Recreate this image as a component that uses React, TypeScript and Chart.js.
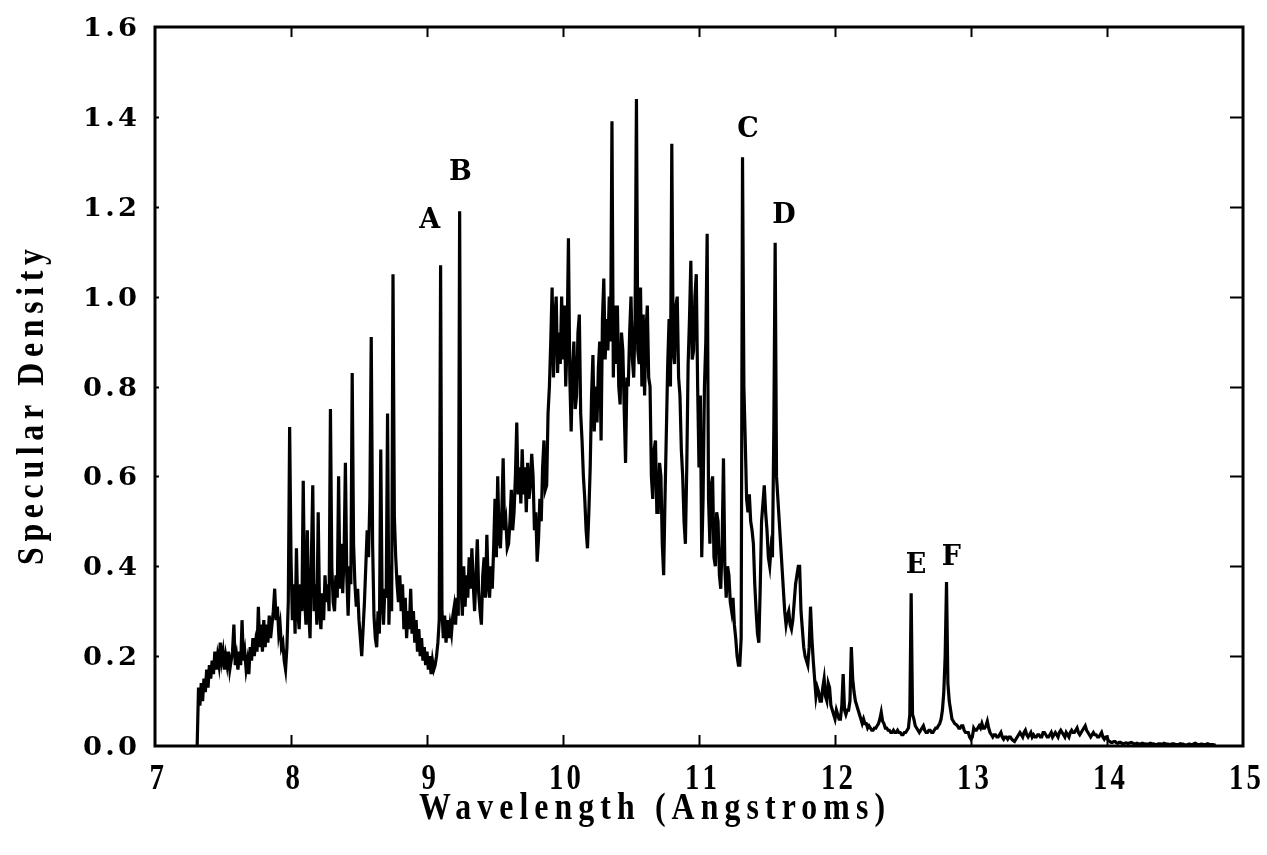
import React, { useEffect, useRef } from "react";
import { Chart, registerables } from "chart.js";

Chart.register(...registerables);

// Scan sampling: first wavelength and step (Angstroms)
const WL_START = 7.3;
const WL_STEP = 0.01;

// Specular density, one reading per 0.01 A from 7.30 A (ten per row)
const density = [
  0.00, 0.00, 0.13, 0.09, 0.14, 0.10, 0.15, 0.12, 0.17, 0.13, // 7.3
  0.18, 0.15, 0.19, 0.16, 0.21, 0.17, 0.20, 0.18, 0.23, 0.19, // 7.4
  0.21, 0.17, 0.20, 0.18, 0.21, 0.17, 0.19, 0.21, 0.27, 0.18, // 7.5
  0.20, 0.17, 0.21, 0.18, 0.28, 0.19, 0.21, 0.17, 0.19, 0.16, // 7.6
  0.22, 0.19, 0.24, 0.20, 0.23, 0.21, 0.31, 0.22, 0.27, 0.21, // 7.7
  0.28, 0.22, 0.27, 0.23, 0.29, 0.24, 0.27, 0.30, 0.35, 0.28, // 7.8
  0.31, 0.25, 0.27, 0.22, 0.23, 0.19, 0.17, 0.22, 0.32, 0.71, // 7.9
  0.42, 0.28, 0.36, 0.25, 0.44, 0.30, 0.26, 0.36, 0.30, 0.59, // 8.0
  0.33, 0.27, 0.48, 0.30, 0.24, 0.42, 0.58, 0.30, 0.36, 0.27, // 8.1
  0.52, 0.30, 0.26, 0.34, 0.28, 0.38, 0.32, 0.36, 0.30, 0.75, // 8.2
  0.40, 0.32, 0.30, 0.38, 0.33, 0.60, 0.35, 0.45, 0.34, 0.42, // 8.3
  0.63, 0.38, 0.29, 0.40, 0.36, 0.83, 0.45, 0.36, 0.31, 0.35, // 8.4
  0.28, 0.24, 0.20, 0.26, 0.32, 0.40, 0.48, 0.42, 0.55, 0.91, // 8.5
  0.45, 0.29, 0.24, 0.22, 0.30, 0.25, 0.66, 0.32, 0.27, 0.35, // 8.6
  0.33, 0.74, 0.27, 0.40, 0.30, 1.05, 0.51, 0.42, 0.36, 0.32, // 8.7
  0.38, 0.30, 0.36, 0.26, 0.33, 0.24, 0.30, 0.26, 0.35, 0.25, // 8.8
  0.30, 0.23, 0.28, 0.21, 0.26, 0.20, 0.24, 0.19, 0.22, 0.18, // 8.9
  0.21, 0.17, 0.20, 0.16, 0.19, 0.17, 0.18, 0.20, 0.23, 0.28, // 9.0
  1.07, 0.30, 0.24, 0.29, 0.23, 0.28, 0.24, 0.27, 0.25, 0.29, // 9.1
  0.31, 0.27, 0.33, 0.29, 1.19, 0.36, 0.29, 0.40, 0.31, 0.38, // 9.2
  0.33, 0.42, 0.35, 0.44, 0.36, 0.30, 0.38, 0.46, 0.34, 0.30, // 9.3
  0.27, 0.38, 0.42, 0.33, 0.47, 0.36, 0.33, 0.40, 0.35, 0.44, // 9.4
  0.55, 0.42, 0.60, 0.46, 0.44, 0.52, 0.64, 0.48, 0.50, 0.44, // 9.5
  0.45, 0.50, 0.57, 0.48, 0.52, 0.60, 0.72, 0.56, 0.62, 0.54, // 9.6
  0.66, 0.56, 0.62, 0.52, 0.63, 0.55, 0.58, 0.65, 0.60, 0.48, // 9.7
  0.52, 0.41, 0.46, 0.55, 0.50, 0.62, 0.68, 0.57, 0.58, 0.74, // 9.8
  0.80, 0.90, 1.02, 0.82, 0.95, 1.00, 0.83, 0.92, 0.85, 1.00, // 9.9
  0.86, 0.98, 0.80, 0.90, 1.13, 0.82, 0.70, 0.84, 0.90, 0.75, // 10.0
  0.78, 0.92, 0.96, 0.74, 0.68, 0.60, 0.55, 0.48, 0.44, 0.52, // 10.1
  0.62, 0.78, 0.87, 0.70, 0.80, 0.72, 0.84, 0.90, 0.68, 0.95, // 10.2
  1.04, 0.86, 0.95, 0.88, 1.00, 0.90, 1.39, 0.82, 0.98, 0.85, // 10.3
  0.98, 0.80, 0.76, 0.92, 0.88, 0.75, 0.63, 0.82, 0.80, 0.92, // 10.4
  1.00, 0.86, 0.82, 0.95, 1.44, 0.88, 0.85, 1.02, 0.80, 0.96, // 10.5
  0.78, 0.92, 0.98, 0.82, 0.80, 0.60, 0.55, 0.66, 0.68, 0.52, // 10.6
  0.52, 0.63, 0.60, 0.45, 0.38, 0.55, 0.70, 0.85, 0.95, 0.80, // 10.7
  1.34, 0.88, 0.85, 0.98, 1.00, 0.82, 0.78, 0.66, 0.60, 0.50, // 10.8
  0.45, 0.62, 0.85, 0.95, 1.08, 0.86, 0.88, 1.00, 1.05, 0.80, // 10.9
  0.62, 0.78, 0.42, 0.55, 0.80, 0.90, 1.14, 0.55, 0.45, 0.58, // 11.0
  0.60, 0.42, 0.40, 0.52, 0.50, 0.38, 0.35, 0.45, 0.64, 0.40, // 11.1
  0.33, 0.40, 0.38, 0.32, 0.30, 0.33, 0.27, 0.24, 0.20, 0.18, // 11.2
  0.18, 0.24, 1.31, 0.80, 0.68, 0.55, 0.52, 0.56, 0.50, 0.48, // 11.3
  0.45, 0.36, 0.30, 0.25, 0.23, 0.35, 0.50, 0.54, 0.58, 0.52, // 11.4
  0.48, 0.42, 0.40, 0.44, 0.42, 0.70, 1.12, 0.60, 0.55, 0.50, // 11.5
  0.45, 0.40, 0.35, 0.30, 0.27, 0.29, 0.30, 0.27, 0.26, 0.28, // 11.6
  0.32, 0.36, 0.38, 0.40, 0.40, 0.30, 0.26, 0.22, 0.20, 0.19, // 11.7
  0.18, 0.22, 0.31, 0.24, 0.19, 0.15, 0.11, 0.13, 0.12, 0.10, // 11.8
  0.10, 0.13, 0.15, 0.11, 0.10, 0.14, 0.13, 0.09, 0.08, 0.07, // 11.9
  0.06, 0.08, 0.07, 0.06, 0.06, 0.09, 0.16, 0.08, 0.07, 0.08, // 12.0
  0.08, 0.10, 0.22, 0.15, 0.12, 0.10, 0.09, 0.08, 0.07, 0.06, // 12.1
  0.05, 0.06, 0.05, 0.05, 0.04, 0.045, 0.04, 0.035, 0.035, 0.04, // 12.2
  0.04, 0.045, 0.05, 0.06, 0.075, 0.055, 0.05, 0.04, 0.04, 0.035, // 12.3
  0.035, 0.03, 0.03, 0.035, 0.03, 0.03, 0.035, 0.03, 0.03, 0.025, // 12.4
  0.025, 0.03, 0.03, 0.035, 0.04, 0.07, 0.34, 0.07, 0.06, 0.045, // 12.5
  0.04, 0.035, 0.03, 0.035, 0.04, 0.045, 0.035, 0.03, 0.03, 0.035, // 12.6
  0.035, 0.03, 0.03, 0.035, 0.04, 0.04, 0.045, 0.05, 0.06, 0.08, // 12.7
  0.12, 0.20, 0.365, 0.14, 0.10, 0.08, 0.06, 0.055, 0.05, 0.048, // 12.8
  0.045, 0.04, 0.04, 0.045, 0.045, 0.035, 0.03, 0.03, 0.03, 0.02, // 12.9
  0.015, 0.02, 0.04, 0.035, 0.035, 0.04, 0.045, 0.04, 0.05, 0.04, // 13.0
  0.04, 0.045, 0.055, 0.04, 0.03, 0.025, 0.02, 0.025, 0.025, 0.02, // 13.1
  0.02, 0.025, 0.03, 0.02, 0.015, 0.02, 0.02, 0.015, 0.02, 0.02, // 13.2
  0.015, 0.012, 0.01, 0.015, 0.02, 0.025, 0.03, 0.025, 0.02, 0.03, // 13.3
  0.035, 0.025, 0.02, 0.025, 0.03, 0.02, 0.025, 0.02, 0.02, 0.025, // 13.4
  0.025, 0.02, 0.02, 0.03, 0.03, 0.025, 0.02, 0.02, 0.025, 0.03, // 13.5
  0.02, 0.025, 0.03, 0.025, 0.02, 0.03, 0.035, 0.03, 0.025, 0.02, // 13.6
  0.03, 0.025, 0.02, 0.03, 0.035, 0.03, 0.03, 0.035, 0.04, 0.03, // 13.7
  0.025, 0.03, 0.035, 0.04, 0.045, 0.035, 0.03, 0.025, 0.02, 0.025, // 13.8
  0.03, 0.025, 0.025, 0.02, 0.02, 0.025, 0.03, 0.02, 0.015, 0.02, // 13.9
  0.02, 0.012, 0.01, 0.008, 0.008, 0.01, 0.01, 0.007, 0.006, 0.008, // 14.0
  0.008, 0.006, 0.005, 0.006, 0.007, 0.006, 0.006, 0.007, 0.008, 0.006, // 14.1
  0.005, 0.005, 0.006, 0.005, 0.004, 0.005, 0.006, 0.005, 0.005, 0.004, // 14.2
  0.004, 0.005, 0.006, 0.005, 0.005, 0.004, 0.003, 0.004, 0.005, 0.005, // 14.3
  0.004, 0.004, 0.006, 0.005, 0.004, 0.004, 0.003, 0.004, 0.005, 0.005, // 14.4
  0.004, 0.003, 0.003, 0.004, 0.005, 0.004, 0.004, 0.003, 0.002, 0.003, // 14.5
  0.004, 0.004, 0.003, 0.003, 0.005, 0.006, 0.004, 0.003, 0.003, 0.004, // 14.6
  0.004, 0.003, 0.003, 0.004, 0.005, 0.004, 0.003, 0.003, 0.003, 0.002, // 14.7
  0.002, // 14.8
];

const wavelengths = density.map((_, i) => Number((WL_START + i * WL_STEP).toFixed(2)));

// Axis ticks and labels
const xTicks = [7, 8, 9, 10, 11, 12, 13, 14, 15];
const xTickLabels = ["7", "8", "9", "10", "11", "12", "13", "14", "15"];
const yTicks = [0, 0.2, 0.4, 0.6, 0.8, 1.0, 1.2, 1.4, 1.6];
const yTickLabels = ["0.0", "0.2", "0.4", "0.6", "0.8", "1.0", "1.2", "1.4", "1.6"];

// Line identifiers and where their letters sit
const peakLetters = ["A", "B", "C", "D", "E", "F"];
const letterWavelengths = [9.02, 9.245, 11.36, 11.625, 12.595, 12.855];
const letterDensities = [1.168, 1.275, 1.371, 1.18, 0.40, 0.418];

const X_TITLE = "Wavelength (Angstroms)";
const Y_TITLE = "Specular Density";

// Draws text horizontally condensed by sx and spread to fill the given width,
// centred on (cx, y) in the current transform.
function drawFitted(
  ctx: CanvasRenderingContext2D,
  text: string,
  cx: number,
  y: number,
  width: number,
  sx: number,
) {
  const c = ctx as any;
  c.letterSpacing = "0px";
  const natural = ctx.measureText(text).width;
  const inner = width / sx;
  const sp = Math.max(0, (inner - natural) / Math.max(1, text.length - 1));
  ctx.save();
  ctx.translate(cx, y);
  ctx.scale(sx, 1);
  c.letterSpacing = sp + "px";
  ctx.textAlign = "left";
  ctx.fillText(text, -inner / 2, 0);
  c.letterSpacing = "0px";
  ctx.restore();
}

const framePlugin = {
  id: "spectrumFrame",
  afterDraw(chart: any) {
    const { ctx, chartArea: a, scales } = chart;
    const xs = scales.x;
    const ys = scales.y;
    ctx.save();
    ctx.strokeStyle = "#000";
    ctx.fillStyle = "#000";

    // Box
    ctx.lineWidth = 3;
    ctx.strokeRect(a.left, a.top, a.right - a.left, a.bottom - a.top);

    // Inward tick marks
    ctx.lineWidth = 2;
    ctx.beginPath();
    xTicks.forEach((v) => {
      if (v <= 7 || v >= 15) return;
      const px = Math.round(xs.getPixelForValue(v)) + 0.5;
      ctx.moveTo(px, a.bottom);
      ctx.lineTo(px, a.bottom - 11);
      ctx.moveTo(px, a.top);
      ctx.lineTo(px, a.top + 10);
    });
    yTicks.forEach((v) => {
      if (v <= 0 || v >= 1.6) return;
      const py = Math.round(ys.getPixelForValue(v)) + 0.5;
      ctx.moveTo(a.right, py);
      ctx.lineTo(a.right - 13, py);
      ctx.moveTo(a.left, py);
      ctx.lineTo(a.left + 4, py);
    });
    ctx.stroke();

    // Y tick labels
    ctx.font = 'bold 26px "DejaVu Serif"';
    ctx.textBaseline = "alphabetic";
    yTicks.forEach((v, i) => {
      const py = ys.getPixelForValue(v);
      drawFitted(ctx, yTickLabels[i], a.left - 18 - 27, py + 9, 54, 1.05);
    });

    // X tick labels (condensed)
    ctx.font = 'bold 36px "Liberation Serif"';
    xTicks.forEach((v, i) => {
      const px = xs.getPixelForValue(v);
      const label = xTickLabels[i];
      const w = label.length === 1 ? 15 : 32;
      drawFitted(ctx, label, px + 2, a.bottom + 43, w, 0.8);
    });

    // Axis titles
    ctx.font = 'bold 37px "Liberation Serif"';
    drawFitted(ctx, X_TITLE, 652, a.bottom + 73, 466, 0.86);

    ctx.save();
    ctx.translate(43, 407);
    ctx.rotate(-Math.PI / 2);
    ctx.font = 'bold 37px "Liberation Serif"';
    drawFitted(ctx, Y_TITLE, 0, 0, 316, 0.86);
    ctx.restore();

    // Peak letters
    ctx.font = 'bold 27px "DejaVu Serif"';
    ctx.textAlign = "center";
    ctx.textBaseline = "middle";
    peakLetters.forEach((t, i) => {
      ctx.fillText(t, xs.getPixelForValue(letterWavelengths[i]), ys.getPixelForValue(letterDensities[i]));
    });

    ctx.restore();
  },
};

export default function App() {
  const canvasRef = useRef<HTMLCanvasElement | null>(null);

  useEffect(() => {
    const canvas = canvasRef.current;
    if (!canvas) return;
    const points = wavelengths.map((x, i) => ({ x, y: density[i] }));
    const chart = new Chart(canvas, {
      type: "line",
      data: {
        datasets: [
          {
            data: points,
            borderColor: "#000",
            borderWidth: 3.2,
            borderJoinStyle: "miter",
            pointRadius: 0,
            tension: 0,
            fill: false,
          },
        ],
      },
      options: {
        responsive: true,
        maintainAspectRatio: false,
        animation: false,
        parsing: false as any,
        layout: { padding: { left: 155, top: 27, right: 24, bottom: 109 } },
        plugins: { legend: { display: false }, tooltip: { enabled: false } },
        scales: {
          x: { type: "linear", min: 7, max: 15, display: false },
          y: { type: "linear", min: 0, max: 1.6, display: false },
        },
      },
      plugins: [framePlugin],
    });
    return () => chart.destroy();
  }, []);

  return (
    <div style={{ position: "fixed", left: 0, top: 0, width: 1267, height: 855, background: "#fff" }}>
      <canvas ref={canvasRef} />
    </div>
  );
}
